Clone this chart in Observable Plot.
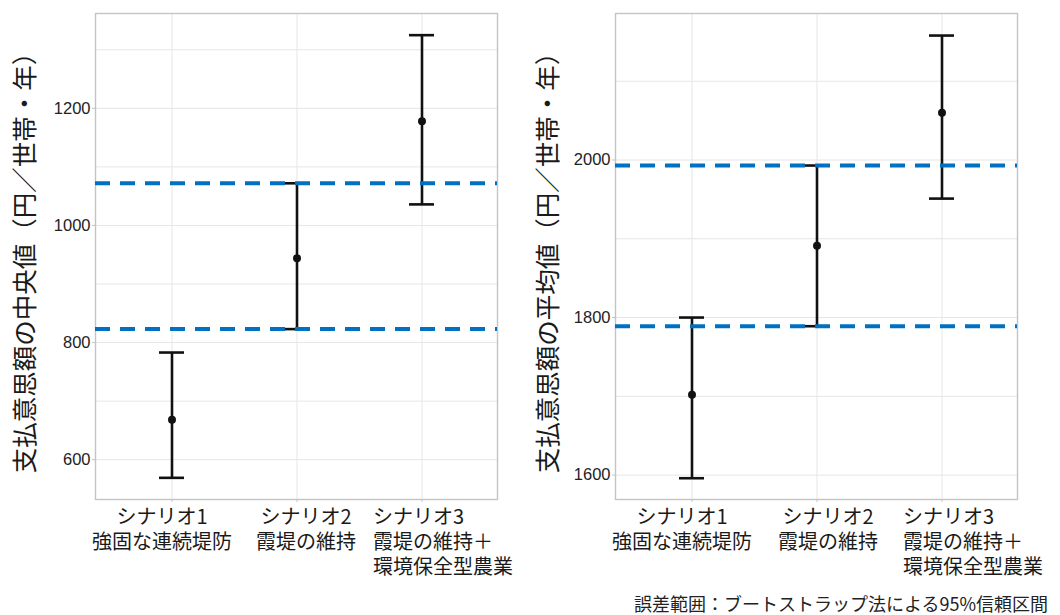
<!DOCTYPE html>
<html>
<head>
<meta charset="utf-8">
<script src="https://cdn.jsdelivr.net/npm/d3@7"></script>
<script src="https://cdn.jsdelivr.net/npm/@observablehq/plot@0.6"></script>
<style>
  html, body { margin: 0; padding: 0; background: #fff; }
  body { width: 1060px; height: 615px; position: relative; overflow: hidden; font-family: "Noto Sans CJK JP", "Noto Sans", sans-serif; }
  #row { display: flex; flex-direction: row; }
  #caption { position: absolute; right: 12px; top: 590px; font-size: 18px; line-height: 26px; color: #222; white-space: nowrap; }
</style>
</head>
<body>
<div id="row"></div>
<div id="caption">誤差範囲：ブートストラップ法による95%信頼区間</div>
<script>
// ---- data ----
const categories = ["シナリオ1", "シナリオ2", "シナリオ3"];
const categoryLabels = [
  "シナリオ1\n強固な連続堤防",
  "シナリオ2\n霞堤の維持",
  "シナリオ3\n霞堤の維持＋\n環境保全型農業"
];

const medianTitle = "支払意思額の中央値（円／世帯・年）";
const medianEst = [668, 944, 1178];
const medianLo  = [569, 823, 1036];
const medianHi  = [783, 1072, 1325];
const medianRef = [823, 1072];
const medianTicks = [600, 800, 1000, 1200];
const medianGrid = [600, 700, 800, 900, 1000, 1100, 1200, 1300];
const medianDomain = [532, 1362];

const meanTitle = "支払意思額の平均値（円／世帯・年）";
const meanEst = [1702, 1891, 2060];
const meanLo  = [1596, 1789, 1951];
const meanHi  = [1800, 1993, 2158];
const meanRef = [1789, 1993];
const meanTicks = [1600, 1800, 2000];
const meanGrid = [1600, 1700, 1800, 1900, 2000, 2100];
const meanDomain = [1569, 2186];

// ---- drawing ----
const FONT = "'Noto Sans CJK JP', 'Noto Sans', sans-serif";

function panel(cfg) {
  const rows = categories.map((c, i) => ({
    c, est: cfg.est[i], lo: cfg.lo[i], hi: cfg.hi[i], label: categoryLabels[i]
  }));
  const labelMarks = rows.map((r, i) => Plot.text([r], {
    x: "c", text: "label",
    frameAnchor: "bottom",
    dy: 7, dx: cfg.labelDx[i],
    lineAnchor: "top",
    lineHeight: 1.25,
    textAnchor: cfg.labelAnchor[i],
    fontSize: 20,
    fill: "#1a1a1a"
  }));
  return Plot.plot({
    width: 530,
    height: 590,
    marginTop: 13,
    marginBottom: 91,
    marginLeft: cfg.marginLeft,
    marginRight: cfg.marginRight,
    style: { fontFamily: FONT, background: "white", overflow: "visible" },
    x: { type: "band", domain: categories, paddingInner: 0.801, paddingOuter: 0.497, axis: null },
    y: { domain: cfg.domain, axis: null },
    marks: [
      Plot.ruleY(cfg.grid, { stroke: "#e6e6e6", strokeWidth: 1 }),
      Plot.ruleX(categories, { x: d => d, stroke: "#e6e6e6", strokeWidth: 1 }),
      Plot.frame({ stroke: "#c4c4c4", strokeWidth: 1.4 }),
      Plot.axisY({ ticks: cfg.ticks, tickFormat: d => String(d), tickSize: 3, tickPadding: 2, stroke: "#c4c4c4", fill: "#222", fontSize: 16.5, fontFamily: "'Liberation Sans', Arial, sans-serif", label: null }),
      Plot.axisX({ tickSize: 3, tickFormat: () => "", stroke: "#c4c4c4", label: null }),
      Plot.ruleX(rows, { x: "c", y1: "lo", y2: "hi", stroke: "#111", strokeWidth: 2.6 }),
      Plot.tickY(rows, { x: "c", y: "lo", stroke: "#111", strokeWidth: 2.6 }),
      Plot.tickY(rows, { x: "c", y: "hi", stroke: "#111", strokeWidth: 2.6 }),
      Plot.dot(rows, { x: "c", y: "est", r: 4, fill: "#111", stroke: "none" }),
      Plot.ruleY(cfg.ref, { stroke: "#0070C0", strokeWidth: 4, strokeDasharray: "15,10" }),
      Plot.text([cfg.title], {
        frameAnchor: "left", rotate: -90, dx: -cfg.titleOffset,
        textAnchor: "middle", fontSize: 25.5, fill: "#1a1a1a"
      }),
      ...labelMarks
    ]
  });
}

const row = document.getElementById("row");
row.appendChild(panel({
  est: medianEst, lo: medianLo, hi: medianHi, ref: medianRef,
  ticks: medianTicks, grid: medianGrid, domain: medianDomain,
  title: medianTitle, titleOffset: 70,
  marginLeft: 95, marginRight: 33,
  labelDx: [-10, 9, -49], labelAnchor: ["middle", "middle", "start"]
}));
row.appendChild(panel({
  est: meanEst, lo: meanLo, hi: meanHi, ref: meanRef,
  ticks: meanTicks, grid: meanGrid, domain: meanDomain,
  title: meanTitle, titleOffset: 67,
  marginLeft: 85, marginRight: 43,
  labelDx: [-10, 11, -39], labelAnchor: ["middle", "middle", "start"]
}));
</script>
</body>
</html>
